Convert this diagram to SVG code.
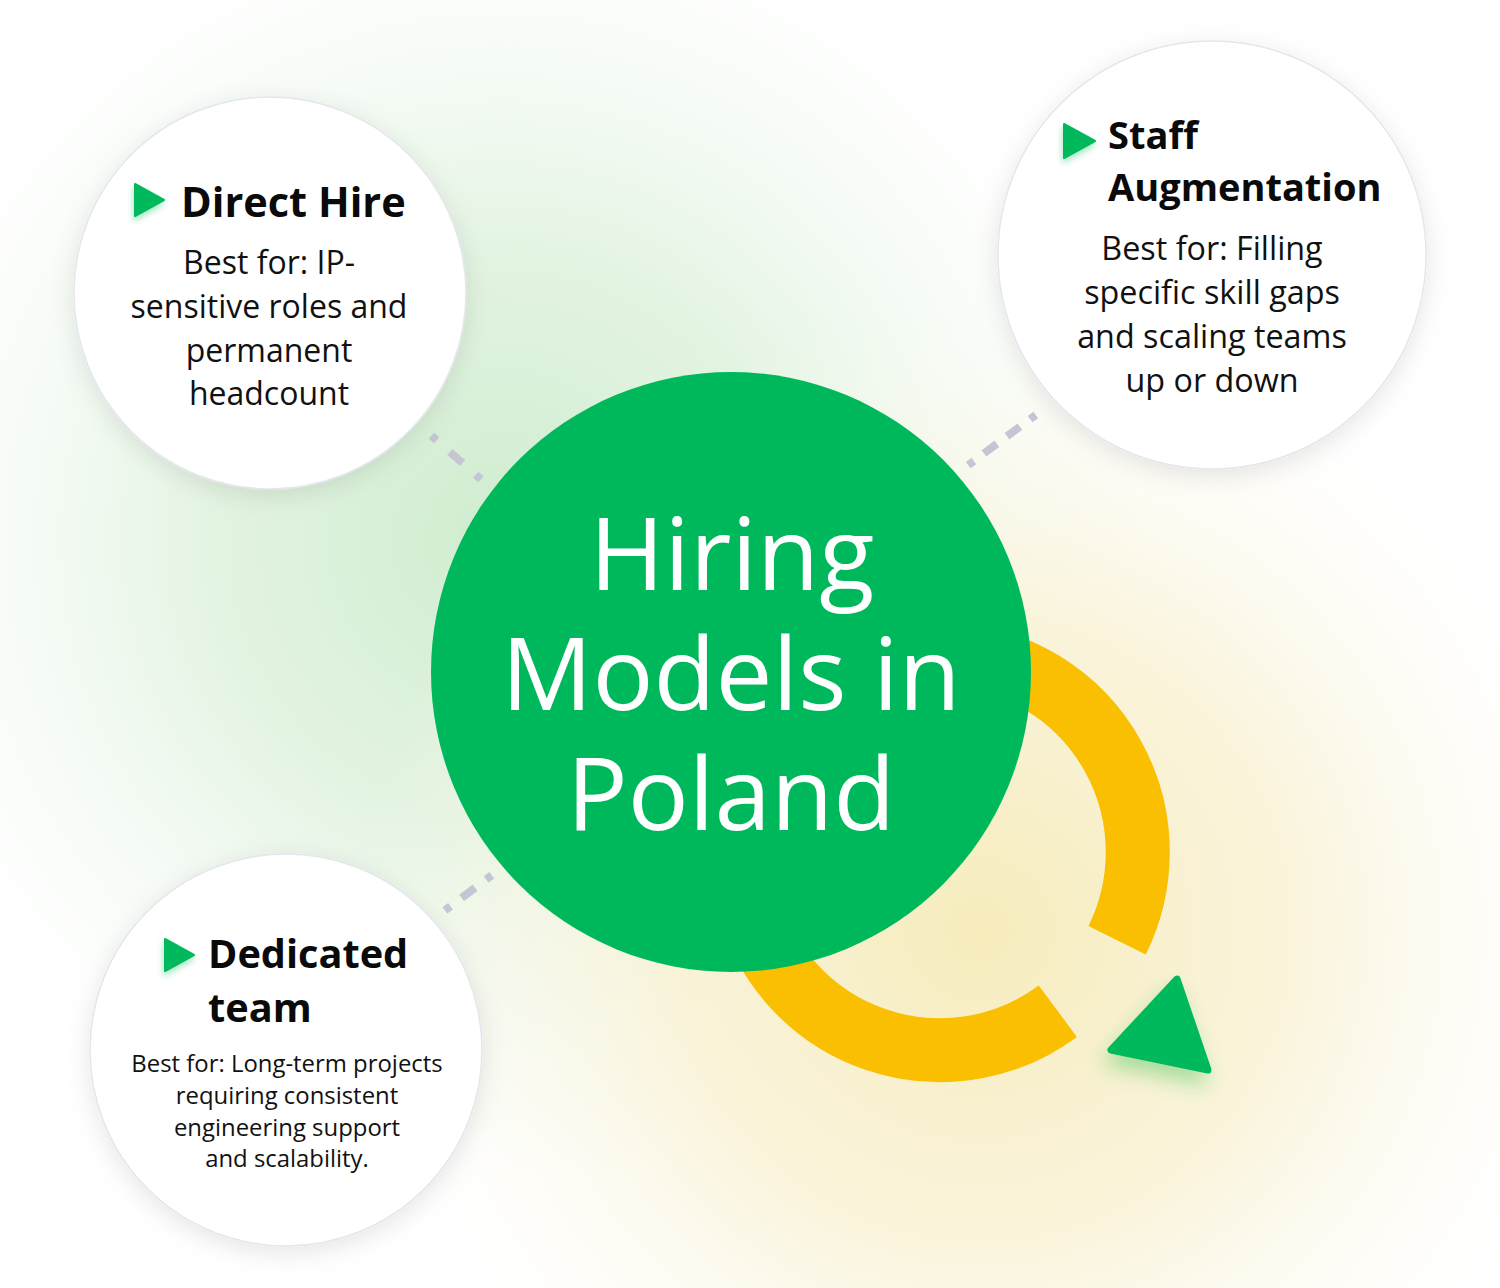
<svg xmlns="http://www.w3.org/2000/svg" width="1500" height="1288" viewBox="0 0 1500 1288">
  <defs>
    <radialGradient id="gGreen" gradientUnits="userSpaceOnUse" cx="500" cy="540" r="640">
      <stop offset="0" stop-color="#cfeccf" stop-opacity="1"/>
      <stop offset="0.45" stop-color="#dcf1da" stop-opacity="0.8"/>
      <stop offset="1" stop-color="#eef8ee" stop-opacity="0"/>
    </radialGradient>
    <radialGradient id="gYellow" gradientUnits="userSpaceOnUse" cx="980" cy="930" r="620">
      <stop offset="0" stop-color="#f6ecbc" stop-opacity="1"/>
      <stop offset="0.5" stop-color="#f9f1d2" stop-opacity="0.8"/>
      <stop offset="1" stop-color="#fdfaf0" stop-opacity="0"/>
    </radialGradient>
    <filter id="nodeShadow" x="-20%" y="-20%" width="140%" height="140%">
      <feDropShadow dx="0" dy="6" stdDeviation="12" flood-color="#000" flood-opacity="0.10"/>
    </filter>
    <filter id="iconGlow" x="-60%" y="-60%" width="220%" height="220%">
      <feDropShadow dx="-1" dy="4" stdDeviation="3" flood-color="#00b95c" flood-opacity="0.35"/>
    </filter>
    <filter id="bigGlow" x="-60%" y="-60%" width="220%" height="240%">
      <feDropShadow dx="-4" dy="12" stdDeviation="10" flood-color="#2fbf4f" flood-opacity="0.4"/>
    </filter>
    <style>
      .node { fill: #ffffff; stroke: #e4e6ec; stroke-width: 1.5; filter: url(#nodeShadow); }
      .icon { fill: #00b95c; stroke: #00b95c; stroke-width: 2; stroke-linejoin: round; filter: url(#iconGlow); }
      .head { font-family: "Open Sans", "Noto Sans", sans-serif; font-weight: 700; fill: #0a0a0a; }
      .body { font-family: "Open Sans", "Noto Sans", sans-serif; font-weight: 400; fill: #111111; text-anchor: middle; }
      .conn { stroke: #c4c7d3; stroke-width: 8; fill: none; stroke-linecap: butt; }
      .title { font-family: "Open Sans", "Noto Sans", sans-serif; font-weight: 400; fill: #ffffff; text-anchor: middle; font-size: 101.5px; }
    </style>
  </defs>

  <rect x="0" y="0" width="1500" height="1288" fill="#ffffff"/>
  <rect x="0" y="0" width="1500" height="1288" fill="url(#gGreen)"/>
  <rect x="0" y="0" width="1500" height="1288" fill="url(#gYellow)"/>

  <g id="connectors">
    <line class="conn" x1="431.4" y1="435.7" x2="481.3" y2="479.6" stroke-dasharray="7 17.5 17 17.5 7 200"/>
    <line class="conn" x1="968.2" y1="465.1" x2="1035.8" y2="414.9" stroke-dasharray="7 12.7 16 12.7 16 12.7 7 200"/>
    <line class="conn" x1="444.9" y1="910.4" x2="491.8" y2="875.2" stroke-dasharray="7 13.8 17 13.8 7 200"/>
  </g>

  <g id="cycle-arrow">
    <path d="M 1057.8 1011.2 A 198 198 0 1 1 1117.1 940.3" fill="none" stroke="#f9bf00" stroke-width="64" stroke-linecap="butt"/>
    <path d="M 1177 979 L 1111 1050 L 1208 1070 Z" fill="#00b95c" stroke="#00b95c" stroke-width="7" stroke-linejoin="round" filter="url(#bigGlow)"/>
  </g>

  <g id="center">
    <circle cx="731" cy="672" r="300" fill="#00b85c"/>
    <text class="title"><tspan x="732" y="590">Hiring</tspan><tspan x="731" y="710">Models in</tspan><tspan x="731" y="830">Poland</tspan></text>
  </g>

  <g id="direct-hire">
    <circle class="node" cx="270" cy="293" r="196"/>
    <path class="icon" d="M 135 184 L 164 200 L 135 216 Z"/>
    <text class="head" x="181" y="217" font-size="41.5">Direct Hire</text>
    <text class="body" font-size="32"><tspan x="269" y="274">Best for: IP-</tspan><tspan x="269" y="318">sensitive roles and</tspan><tspan x="269" y="362">permanent</tspan><tspan x="269" y="405">headcount</tspan></text>
  </g>

  <g id="staff-augmentation">
    <circle class="node" cx="1212" cy="255" r="214"/>
    <path class="icon" d="M 1064 124 L 1095 141 L 1064 158 Z"/>
    <text class="head" x="1108" y="149" font-size="38">Staff</text>
    <text class="head" x="1108" y="201" font-size="38">Augmentation</text>
    <text class="body" font-size="32.3"><tspan x="1212" y="260">Best for: Filling</tspan><tspan x="1212" y="304">specific skill gaps</tspan><tspan x="1212" y="348">and scaling teams</tspan><tspan x="1212" y="392">up or down</tspan></text>
  </g>

  <g id="dedicated-team">
    <circle class="node" cx="286" cy="1050" r="196"/>
    <path class="icon" d="M 165 939 L 194 955 L 165 971 Z"/>
    <text class="head" x="208" y="968" font-size="39.7">Dedicated</text>
    <text class="head" x="208" y="1022" font-size="39.7">team</text>
    <text class="body" font-size="23.9"><tspan x="287" y="1072">Best for: Long-term projects</tspan><tspan x="287" y="1104">requiring consistent</tspan><tspan x="287" y="1136">engineering support</tspan><tspan x="287" y="1167">and scalability.</tspan></text>
  </g>
</svg>
